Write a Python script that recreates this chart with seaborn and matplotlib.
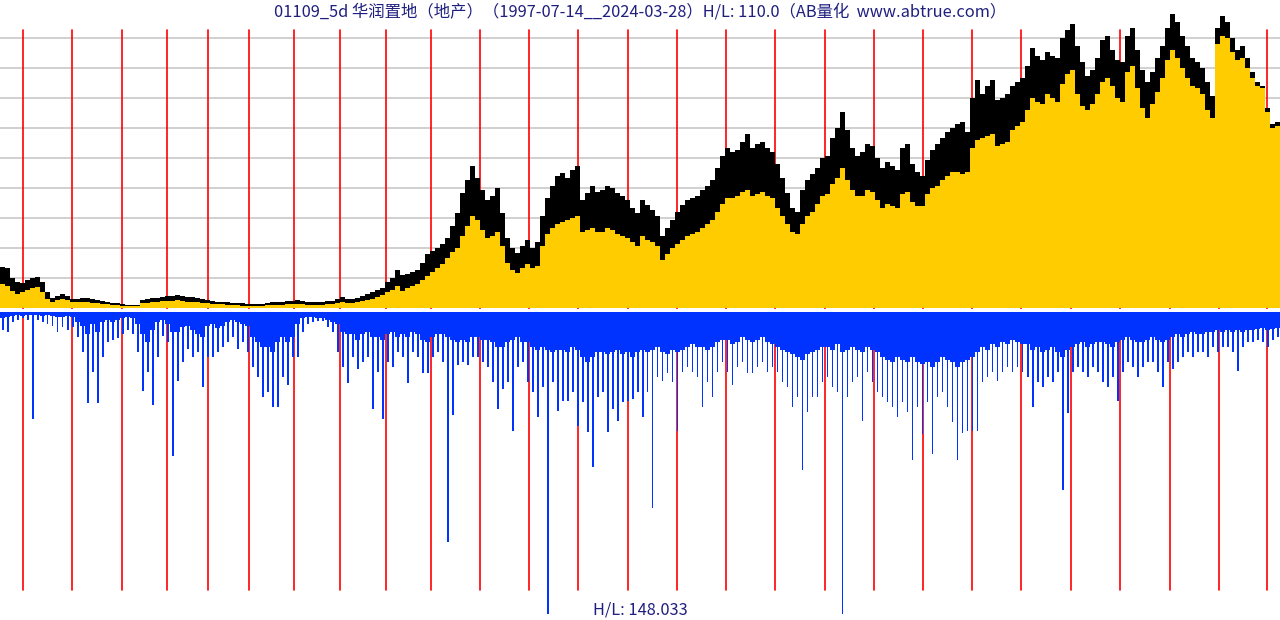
import numpy as np
import matplotlib
matplotlib.use("Agg")
import matplotlib.pyplot as plt
import seaborn as sns

# ---------------- data (5-week buckets, 1997-07-14 .. 2024-03-28) ----------------
high = [
    4.1, 4.0, 3.0, 2.6, 2.5, 2.8, 3.0, 3.1, 2.6, 1.6,
    1.0, 1.2, 1.4, 1.2, 0.9, 0.9, 1.0, 1.0, 0.9, 0.8,
    0.7, 0.6, 0.5, 0.5, 0.4, 0.3, 0.3, 0.3, 0.8, 0.9,
    1.0, 1.0, 1.1, 1.2, 1.2, 1.3, 1.2, 1.1, 1.1, 1.0,
    0.9, 0.8, 0.7, 0.6, 0.6, 0.6, 0.5, 0.5, 0.5, 0.4,
    0.4, 0.4, 0.4, 0.5, 0.6, 0.6, 0.6, 0.7, 0.7, 0.8,
    0.7, 0.6, 0.6, 0.6, 0.6, 0.7, 0.7, 0.9, 1.1, 0.9,
    0.9, 1.0, 1.2, 1.4, 1.6, 1.8, 2.0, 2.6, 3.0, 3.8,
    3.3, 3.4, 3.6, 3.8, 4.5, 5.4, 5.7, 6.0, 6.4, 7.0,
    8.2, 9.5, 11.5, 12.8, 14.2, 13.0, 11.8, 10.8, 11.2, 12.0,
    9.5, 7.0, 6.0, 5.5, 6.2, 6.8, 6.0, 6.6, 9.2, 11.0,
    12.2, 13.2, 13.5, 13.0, 13.8, 14.2, 10.8, 11.5, 12.2, 11.6,
    11.8, 12.2, 12.0, 11.5, 11.2, 10.8, 10.0, 9.5, 10.8, 10.3,
    9.8, 9.2, 7.2, 8.0, 8.8, 9.6, 10.3, 10.8, 11.0, 11.2,
    11.8, 12.2, 12.8, 14.0, 15.2, 16.0, 15.6, 15.8, 16.6, 17.4,
    16.0, 16.4, 16.6, 16.0, 15.6, 14.4, 13.0, 11.5, 10.0, 9.6,
    11.8, 12.8, 13.4, 14.0, 15.0, 15.2, 17.0, 18.0, 19.6, 17.8,
    16.0, 15.2, 15.6, 16.4, 16.2, 15.0, 14.0, 14.6, 14.2, 13.8,
    16.0, 16.4, 14.4, 13.6, 13.2, 14.8, 15.8, 16.4, 17.0, 17.6,
    18.0, 18.4, 18.6, 17.6, 21.0, 22.8, 21.4, 22.2, 22.8, 20.8,
    21.0, 21.4, 22.2, 22.6, 23.0, 24.2, 26.0, 25.2, 24.8, 25.6,
    25.2, 25.0, 27.0, 27.8, 28.4, 26.2, 24.6, 23.2, 23.8, 25.0,
    26.8, 27.2, 25.8, 24.8, 24.6, 27.2, 28.0, 25.8, 23.8, 22.6,
    23.6, 25.0, 26.2, 28.0, 29.4, 28.6, 27.2, 26.2, 25.0, 24.6,
    24.0, 22.6, 21.2, 28.0, 29.2, 28.6, 27.0, 25.8, 26.2, 25.0,
    23.6, 22.6, 22.2, 20.0, 18.4, 18.6,
]
low = [
    2.4, 2.2, 1.7, 1.4, 1.6, 1.8, 2.0, 2.1, 1.6, 0.9,
    0.6, 0.8, 0.9, 0.8, 0.6, 0.6, 0.6, 0.6, 0.5, 0.5,
    0.4, 0.4, 0.3, 0.3, 0.2, 0.2, 0.2, 0.2, 0.5, 0.5,
    0.6, 0.6, 0.7, 0.7, 0.7, 0.8, 0.7, 0.6, 0.6, 0.6,
    0.5, 0.5, 0.4, 0.4, 0.4, 0.3, 0.3, 0.3, 0.2, 0.2,
    0.2, 0.2, 0.2, 0.3, 0.3, 0.3, 0.3, 0.4, 0.4, 0.4,
    0.4, 0.3, 0.3, 0.3, 0.3, 0.4, 0.4, 0.5, 0.6, 0.5,
    0.5, 0.6, 0.7, 0.8, 0.9, 1.1, 1.3, 1.6, 1.8, 2.2,
    1.7, 2.0, 2.2, 2.4, 2.8, 3.2, 3.6, 4.0, 4.4, 5.0,
    5.6, 6.0, 7.2, 8.2, 9.2, 8.8, 7.8, 7.0, 7.2, 7.6,
    6.2, 4.5, 3.8, 3.5, 4.0, 4.4, 4.0, 4.2, 6.2, 7.4,
    8.0, 8.4, 8.6, 8.8, 9.0, 9.2, 7.6, 7.8, 8.0, 7.6,
    7.6, 8.0, 7.8, 7.4, 7.2, 7.0, 6.6, 6.2, 7.2, 6.8,
    6.6, 6.2, 4.8, 5.4, 6.0, 6.4, 6.8, 7.2, 7.4, 7.6,
    8.0, 8.4, 8.8, 9.6, 10.4, 11.0, 11.0, 11.2, 11.6, 11.8,
    11.2, 11.4, 11.6, 11.2, 11.0, 10.0, 9.2, 8.4, 7.6, 7.4,
    8.4, 9.2, 9.6, 10.4, 11.2, 11.4, 12.4, 13.0, 14.0, 12.8,
    11.8, 11.2, 11.2, 11.8, 11.6, 10.8, 10.0, 10.4, 10.2, 10.0,
    11.4, 11.6, 10.6, 10.2, 10.2, 11.4, 12.0, 12.2, 12.8, 13.2,
    13.6, 13.6, 13.4, 13.6, 16.0, 16.8, 17.0, 17.2, 17.4, 16.2,
    16.4, 16.6, 17.8, 18.2, 18.6, 19.8, 21.0, 20.6, 20.4, 21.4,
    21.0, 20.6, 22.4, 23.4, 23.8, 21.4, 20.2, 19.8, 20.4, 21.4,
    22.6, 23.0, 22.2, 21.0, 20.6, 23.6, 24.2, 22.0, 20.0, 19.0,
    20.4, 21.6, 23.0, 24.8, 25.8, 25.0, 24.0, 23.0, 22.2, 22.0,
    21.4, 19.8, 19.0, 26.4, 27.2, 27.0, 25.6, 24.8, 25.0, 24.0,
    23.0, 22.2, 22.0, 19.6, 18.0, 18.2,
]
vol_base = [
    6, 5, 4, 3, 4, 3, 3, 3, 4, 3,
    4, 5, 5, 4, 5, 10, 14, 22, 12, 20,
    10, 8, 10, 8, 6, 5, 6, 12, 22, 30,
    18, 10, 8, 12, 20, 20, 15, 14, 18, 22,
    25, 14, 12, 16, 14, 10, 8, 10, 12, 14,
    25, 30, 35, 35, 40, 30, 25, 30, 25, 12,
    6, 5, 5, 6, 6, 8, 10, 12, 20, 22,
    22, 28, 22, 20, 25, 25, 28, 22, 20, 25,
    22, 25, 20, 22, 28, 30, 25, 22, 22, 25,
    28, 30, 28, 30, 25, 25, 28, 28, 30, 35,
    35, 30, 28, 25, 30, 30, 35, 38, 35, 38,
    40, 38, 38, 40, 35, 38, 45, 50, 45, 40,
    40, 42, 40, 38, 42, 40, 45, 40, 38, 40,
    38, 35, 40, 42, 38, 40, 38, 35, 32, 35,
    35, 38, 35, 30, 28, 28, 32, 30, 25, 28,
    30, 28, 25, 30, 32, 35, 38, 40, 42, 45,
    48, 42, 40, 38, 35, 35, 38, 32, 40, 38,
    35, 38, 40, 35, 38, 40, 45, 48, 50, 45,
    48, 50, 45, 50, 52, 50, 55, 50, 45, 48,
    50, 55, 50, 48, 45, 40, 35, 38, 32, 35,
    30, 32, 28, 30, 32, 32, 38, 35, 40, 38,
    35, 40, 45, 38, 35, 32, 30, 35, 32, 30,
    30, 32, 35, 30, 28, 25, 28, 30, 30, 28,
    25, 28, 30, 28, 25, 22, 25, 22, 20, 22,
    22, 20, 20, 18, 20, 18, 20, 18, 20, 18,
    18, 17, 16, 18, 17, 16,
]
vol_peak = [
    18, 20, 10, 8, 6, 8, 107, 8, 10, 12,
    14, 20, 15, 18, 15, 25, 40, 91, 60, 91,
    45, 30, 28, 26, 22, 18, 22, 40, 79, 60,
    93, 45, 24, 30, 144, 69, 50, 37, 45, 40,
    75, 45, 45, 40, 35, 30, 25, 37, 30, 40,
    55, 65, 85, 80, 95, 95, 65, 73, 45, 45,
    20, 12, 10, 9, 9, 15, 20, 40, 55, 71,
    45, 57, 50, 45, 97, 60, 107, 50, 55, 40,
    45, 71, 40, 45, 61, 61, 45, 40, 50, 230,
    103, 53, 50, 53, 45, 45, 50, 55, 70, 97,
    77, 70, 119, 55, 50, 70, 80, 105, 75, 302,
    70, 99, 89, 89, 80, 114, 90, 120, 155, 85,
    80, 120, 97, 109, 90, 89, 87, 80, 105, 80,
    196, 65, 69, 61, 70, 119, 60, 55, 60, 65,
    95, 70, 85, 60, 50, 60, 73, 55, 50, 61,
    61, 55, 50, 60, 55, 60, 70, 75, 95, 85,
    158, 100, 85, 85, 70, 65, 75, 80, 302, 85,
    70, 65, 109, 60, 70, 80, 85, 90, 95, 105,
    90, 100, 148, 95, 122, 90, 142, 85, 80, 95,
    110, 148, 121, 119, 119, 119, 70, 65, 60, 69,
    60, 55, 60, 55, 60, 65, 95, 70, 75, 65,
    70, 60, 178, 101, 60, 55, 60, 65, 55, 60,
    70, 75, 65, 89, 60, 50, 55, 65, 55, 50,
    50, 60, 75, 50, 57, 50, 45, 40, 45, 40,
    40, 45, 35, 40, 35, 35, 40, 59, 35, 30,
    30, 28, 30, 35, 28, 25,
]
# first bucket of each calendar year 1998 .. 2024 (bucket units)
year_start = [4.1, 13.9, 23.9, 32.9, 41.1, 49.3, 58.3, 67.5, 76.7, 85.7,
              95.5, 105.3, 115.1, 125.1, 134.9, 144.7, 154.5, 164.5, 174.3,
              184.1, 193.9, 203.7, 213.7, 223.5, 233.5, 243.3, 252.9]
grid_levels = [3, 6, 9, 12, 15, 18, 21, 24, 27]

title = "01109_5d 华润置地（地产）（1997-07-14__2024-03-28）H/L: 110.0（AB量化  www.abtrue.com）"
vol_label = "H/L: 148.033"

# ---------------- style ----------------
sns.set_style("white")
plt.rcParams['font.family'] = ['Noto Sans CJK SC', 'DejaVu Sans']

GOLD = "#FFCC00"
BLUE = "#0033FF"
RED = "#FF0000"
NAVY = "#1f1f80"

n = len(high)
idx = np.arange(n)

fig = plt.figure(figsize=(12.8, 6.2), dpi=100)
ax1 = fig.add_axes([0, 311 / 620, 1, 309 / 620])
ax2 = fig.add_axes([0, 6 / 620, 1, 302 / 620])

# upper panel: price
sns.barplot(x=idx, y=high, color="black", width=1, native_scale=True,
            errorbar=None, saturation=1, linewidth=0, ax=ax1)
sns.barplot(x=idx, y=low, color=GOLD, width=1, native_scale=True,
            errorbar=None, saturation=1, linewidth=0, ax=ax1)
ax1.set_xlim(-0.5, n - 0.5)
ax1.set_ylim(-0.1, 30.8)
ax1.set_yticks(grid_levels)
ax1.set_axisbelow(True)
ax1.grid(axis="y", color="#c8c8c8", linewidth=1.2)
ax1.grid(axis="x", visible=False)
for x in year_start:
    ax1.axvline(x, ymin=0, ymax=279 / 309, color=RED, linewidth=1.2, zorder=0.8)

# lower panel: volume (hanging down)
sns.barplot(x=idx, y=vol_base, color=BLUE, width=1, native_scale=True,
            errorbar=None, saturation=1, linewidth=0, ax=ax2)
sns.barplot(x=idx, y=vol_peak, color=BLUE, width=0.4, native_scale=True,
            errorbar=None, saturation=1, linewidth=0, ax=ax2)
ax2.set_xlim(-0.5, n - 0.5)
ax2.set_ylim(max(vol_peak), 0)
for x in year_start:
    ax2.axvline(x, ymin=24 / 302, ymax=1, color=RED, linewidth=1.2, zorder=0.8)

for ax in (ax1, ax2):
    ax.set_xlabel("")
    ax.set_ylabel("")
    ax.tick_params(left=False, bottom=False, labelleft=False, labelbottom=False)
    sns.despine(ax=ax, left=True, bottom=True)
    ax.patch.set_alpha(0)

fig.text(0.5, 1 - 12 / 620, title, ha="center", va="center",
         color=NAVY, fontsize=11.8)
fig.text(0.5, 1 - 610 / 620, vol_label, ha="center", va="center",
         color=NAVY, fontsize=11.8)

fig.savefig("out.png", dpi=100, facecolor="white")
